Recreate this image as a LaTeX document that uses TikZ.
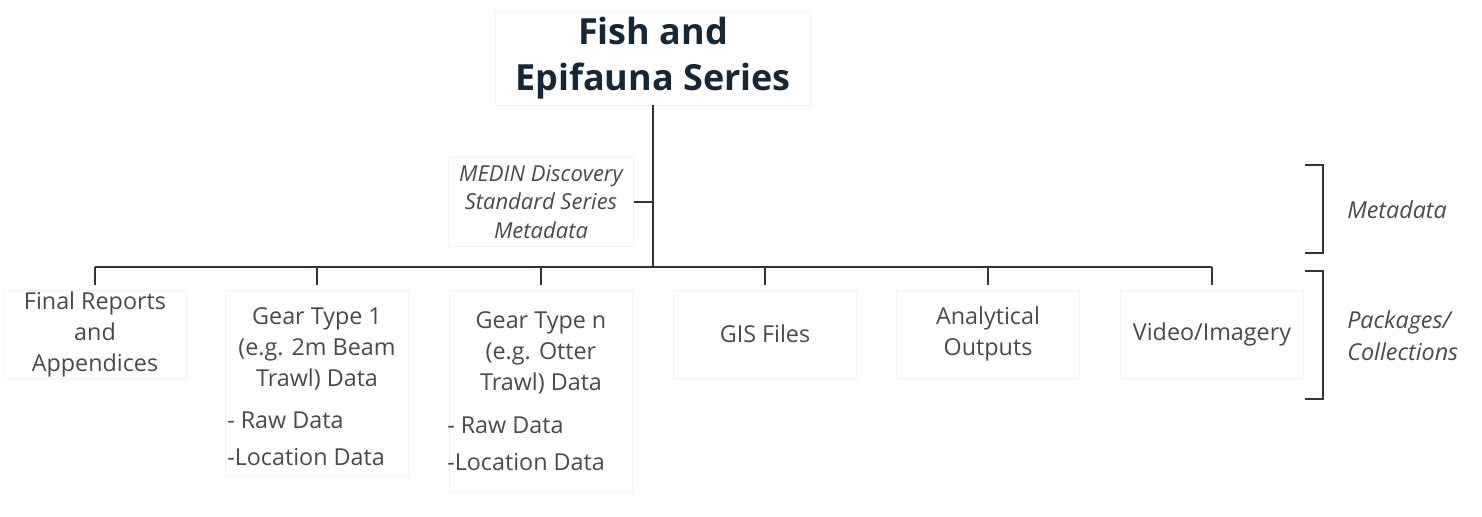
\documentclass[tikz,border=0pt]{standalone}
\usepackage{fontspec}
\setmainfont{Open Sans}
\usepackage{tikz}
\usetikzlibrary{positioning}
\usepackage{xcolor}

\definecolor{titlenavy}{RGB}{22,40,56}
\definecolor{txtgrey}{RGB}{74,74,74}
\definecolor{linegrey}{RGB}{48,54,62}
\definecolor{boxgrey}{RGB}{243,243,243}

\newcommand{\leaffont}{\fontsize{17.5}{23.25}\selectfont}
\newcommand{\titlefont}{\fontsize{27}{34.5}\selectfont\bfseries}
\newcommand{\notefont}{\fontsize{16.5}{21.4}\selectfont\itshape}

\tikzset{
  tree/.style={draw=linegrey, line width=1.5pt},
  brack/.style={draw=linegrey, line width=1.9pt},
  leafbox/.style={draw=boxgrey, line width=0.4pt, text=txtgrey, font=\leaffont, align=center,
                  minimum width=137pt, minimum height=66pt, inner sep=0pt},
  leaftext/.style={text=txtgrey, font=\leaffont, align=center, inner sep=0.75pt},
  listtext/.style={text=txtgrey, font=\leaffont, anchor=west, inner sep=0.75pt},
  sidetext/.style={text=txtgrey, font=\fontsize{17.5}{24}\selectfont\itshape, align=left, anchor=west, inner sep=0.75pt}
}

\begin{document}
\begin{tikzpicture}[x=0.75pt,y=0.75pt,yscale=-1,xscale=1]
\useasboundingbox (0,0) rectangle (1482,517);

% Text Node
\node [draw=boxgrey, line width=0.4pt, text=titlenavy, font=\titlefont, align=center,
       minimum width=236pt, minimum height=70.5pt, inner sep=0pt] (title) at (653,58) {Fish and\\Epifauna Series};
% Text Node
\node [draw=boxgrey, line width=0.4pt, text=txtgrey, font=\notefont, align=center,
       minimum width=139pt, minimum height=67pt, inner sep=0pt] (medin) at (541,202) {MEDIN Discovery\\Standard Series\\Metadata};

% Text Node
\node [leafbox] (report) at (95,334) {Final Reports\\and\\Appendices};
% Text Node
\node [leafbox, minimum height=139pt, anchor=north] (gearone) at (317,290) {};
\node [leaftext, below=12pt of gearone.north] (gearonehead) {Gear Type 1\\(e.g. 2m Beam\\Trawl) Data};
\node [listtext] (gearoneraw) at (226,420) {- Raw Data};
\node [listtext] (gearoneloc) at (226,457) {-Location Data};
% Text Node
\node [leafbox, minimum height=151pt, anchor=north] (gearn) at (541,290) {};
\node [leaftext, below=15pt of gearn.north] (gearnhead) {Gear Type n\\(e.g. Otter\\Trawl) Data};
\node [listtext] (gearnraw) at (446,425) {- Raw Data};
\node [listtext] (gearnloc) at (446,462) {-Location Data};
% Text Node
\node [leafbox] (gis) at (765,334) {GIS Files};
% Text Node
\node [leafbox] (analytic) at (988,334) {Analytical\\Outputs};
% Text Node
\node [leafbox] (video) at (1212,334) {Video/Imagery};

%Straight Lines
\coordinate (busleft) at (95,267);
\coordinate (busright) at (1212,267);
\draw [tree] (title.south) -- (title.south |- busleft);
\draw [tree] (medin.east) -- (medin.east -| title.south);
\draw [tree] (busleft) -- (busright);
%Straight Lines
\draw [tree, shorten >=3.75pt] (report.north |- busleft) -- (report.north);
\draw [tree, shorten >=3.75pt] (gearone.north |- busleft) -- (gearone.north);
\draw [tree, shorten >=3.75pt] (gearn.north |- busleft) -- (gearn.north);
\draw [tree, shorten >=3.75pt] (gis.north |- busleft) -- (gis.north);
\draw [tree, shorten >=3.75pt] (analytic.north |- busleft) -- (analytic.north);
\draw [tree, shorten >=3.75pt] (video.north |- busleft) -- (video.north);

%Brackets
\draw [brack] (1305,165) -- (1323,165) -- (1323,253) -- (1305,253);
\draw [brack] (1305,271) -- (1323,271) -- (1323,399) -- (1305,399);

% Text Node
\node [sidetext] (metalabel) at (1346,210) {Metadata};
% Text Node
\node [sidetext] (packlabel) at (1346,336) {Packages/\\Collections};

\end{tikzpicture}
\end{document}
